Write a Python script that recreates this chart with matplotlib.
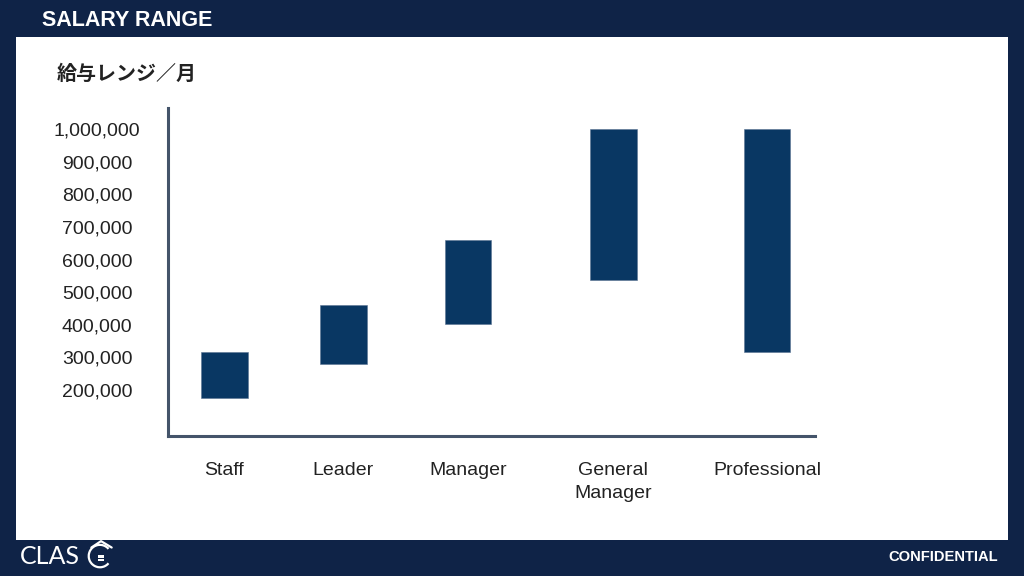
import matplotlib
matplotlib.use("Agg")
import matplotlib.pyplot as plt
from matplotlib.patches import Rectangle, Arc

# salary range per grade (monthly, yen)
grades = ["Staff", "Leader", "Manager", "General\nManager", "Professional"]
salary_low = [177000, 280000, 403000, 537000, 315000]
salary_high = [315000, 460000, 660000, 1000000, 1000000]
ytick_values = [200000, 300000, 400000, 500000, 600000, 700000, 800000, 900000, 1000000]
ytick_labels = [f"{v:,}" for v in ytick_values]

# layout (bar centres are not evenly spaced on the slide)
xpos = [0, 0.99, 2.03, 3.24, 4.52]
bar_w = 0.39

NAVY = "#0f2347"
BAR = "#093763"
AXIS = "#44546a"

plt.rcParams["font.family"] = ["Liberation Sans", "DejaVu Sans"]

fig = plt.figure(figsize=(10.24, 5.76), dpi=100)
fig.patch.set_facecolor(NAVY)

# slide background, in pixel units
bg = fig.add_axes([0, 0, 1, 1], zorder=-5)
bg.set_xlim(0, 1024)
bg.set_ylim(576, 0)
bg.axis("off")
bg.add_patch(Rectangle((16, 37), 992, 503, facecolor="white", edgecolor="none"))

fig.text(42 / 1024, 1 - 20 / 576, "SALARY RANGE", color="white", fontsize=15.5,
         fontweight="bold", va="center", ha="left")
fig.text(998 / 1024, 1 - 557 / 576, "CONFIDENTIAL", color="white", fontsize=10.6,
         fontweight="bold", va="center", ha="right")
fig.text(57 / 1024, 1 - 73 / 576, "給与レンジ／月", color="#222222", fontsize=14.4,
         fontweight="bold", va="center", ha="left",
         family=["Noto Sans CJK JP", "DejaVu Sans"])

# logo
fig.text(20 / 1024, 1 - 556 / 576, "CLAS", color="white", fontsize=18,
         va="center", ha="left", family=["Lato", "DejaVu Sans"])
lg = fig.add_axes([85 / 1024, 1 - 571 / 576, 32 / 1024, 32 / 576])
lg.set_xlim(0, 30)
lg.set_ylim(0, 30)
lg.set_aspect("equal")
lg.axis("off")
lg.add_patch(Arc((14, 14), 21, 21, theta1=40, theta2=320, color="white", lw=1.6))
lg.plot([6, 15, 25], [22, 28, 22], color="white", lw=1.6, solid_capstyle="round")
for dx in (0, 3.4):
    for dy in (0, 3.4):
        lg.add_patch(Rectangle((12 + dx, 9 + dy), 2.6, 2.6, color="white", lw=0))

ax = fig.add_axes([168 / 1024, 1 - 436 / 576, 647 / 1024, 328 / 576])
ax.set_facecolor("none")
heights = [h - l for h, l in zip(salary_high, salary_low)]
ax.bar(xpos, heights, bottom=salary_low, width=bar_w, color=BAR, edgecolor="#5a7393",
       linewidth=0.4)

ax.set_xlim(-0.47, 4.92)
ax.set_ylim(59000, 1064400)
ax.set_yticks(ytick_values)
ax.set_yticklabels(ytick_labels, fontsize=14, color="#222222")
for t in ax.get_yticklabels():
    t.set_horizontalalignment("center")
ax.tick_params(axis="y", length=0, pad=51)
ax.set_xticks(xpos)
ax.set_xticklabels(grades, fontsize=14, color="#222222", linespacing=1.45)
ax.tick_params(axis="x", length=0, pad=19)

for s in ("top", "right"):
    ax.spines[s].set_visible(False)
for s in ("left", "bottom"):
    ax.spines[s].set_color(AXIS)
    ax.spines[s].set_linewidth(2.2)

fig.savefig("out.png", dpi=100, facecolor=NAVY)
